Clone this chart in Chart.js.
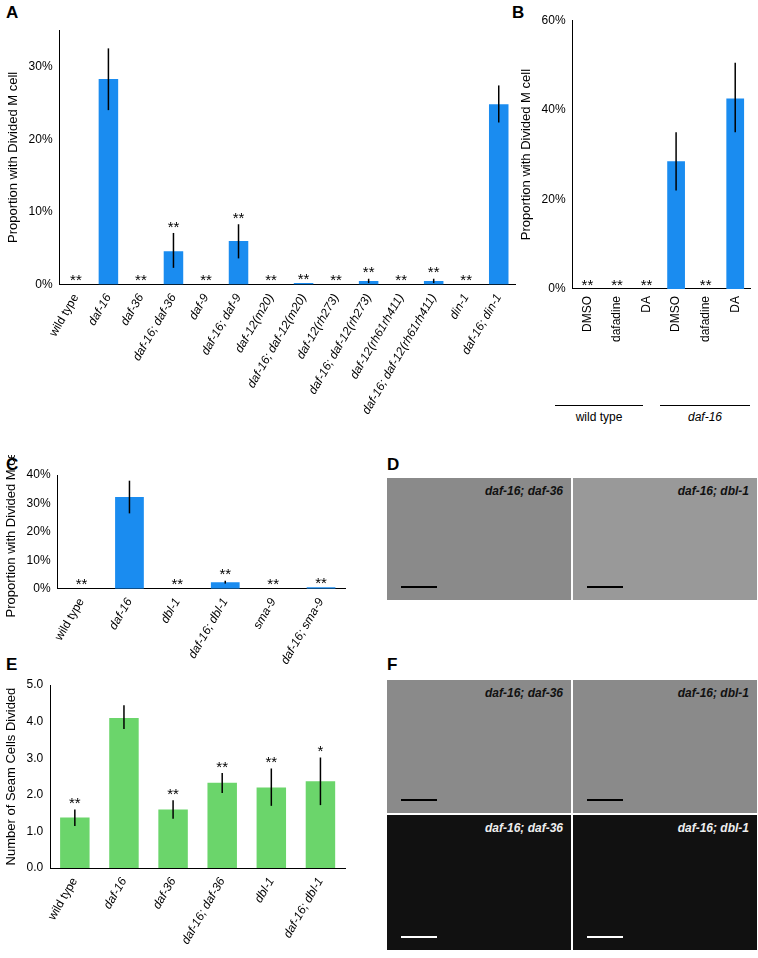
<!DOCTYPE html>
<html><head><meta charset="utf-8">
<script src="https://cdn.jsdelivr.net/npm/chart.js@4"></script>
<style>
body{margin:0;width:758px;height:958px;background:#fff;position:relative;font-family:"Liberation Sans",Arial,sans-serif;overflow:hidden}
.box{position:absolute}
.lt{position:absolute;font-weight:bold;font-size:17px}
.img{position:absolute;background:#8a8a8a}
.img i{position:absolute;right:8px;top:6px;font-size:12px;font-weight:bold;color:#111}
.dark{background:#111}
.dark i{color:#eee}
.bar{position:absolute;left:14px;bottom:12px;width:36px;height:2px;background:#000}
.dark .bar{background:#fff}
</style></head><body>
<div class="lt" style="left:6px;top:3px">A</div>
<div class="lt" style="left:512px;top:3px">B</div>
<div class="lt" style="left:6px;top:455px">C</div>
<div class="lt" style="left:387px;top:455px">D</div>
<div class="lt" style="left:6px;top:655px">E</div>
<div class="lt" style="left:387px;top:655px">F</div>
<div class="box" style="left:0;top:20px;width:520px;height:400px"><canvas id="a"></canvas></div>
<div class="box" style="left:515px;top:10px;width:243px;height:335px"><canvas id="b"></canvas></div>
<div style="position:absolute;left:555px;top:405px;width:88px;border-top:1px solid #000"></div>
<div style="position:absolute;left:660px;top:405px;width:90px;border-top:1px solid #000"></div>
<div style="position:absolute;left:555px;top:410px;width:88px;text-align:center;font-size:12px">wild type</div>
<div style="position:absolute;left:660px;top:410px;width:90px;text-align:center;font-size:12px;font-style:italic">daf-16</div>
<div class="box" style="left:0;top:455px;width:350px;height:215px"><canvas id="c"></canvas></div>
<div class="box" style="left:0;top:665px;width:350px;height:285px"><canvas id="e"></canvas></div>
<div class="img" style="left:387px;top:478px;width:184px;height:122px"><i>daf-16; daf-36</i><span class="bar"></span></div>
<div class="img" style="left:573px;top:478px;width:184px;height:122px;background:#999"><i>daf-16; dbl-1</i><span class="bar"></span></div>
<div class="img" style="left:387px;top:680px;width:184px;height:133px"><i>daf-16; daf-36</i><span class="bar"></span></div>
<div class="img" style="left:573px;top:680px;width:184px;height:133px"><i>daf-16; dbl-1</i><span class="bar"></span></div>
<div class="img dark" style="left:387px;top:815px;width:184px;height:135px"><i>daf-16; daf-36</i><span class="bar"></span></div>
<div class="img dark" style="left:573px;top:815px;width:184px;height:135px"><i>daf-16; dbl-1</i><span class="bar"></span></div>
<script>
const FONT = "'Liberation Sans', Arial, sans-serif";
const BLUE = "#1a8cf0", GREEN = "#6bd56b";

const aLabels = ["wild type","daf-16","daf-36","daf-16; daf-36","daf-9","daf-16; daf-9","daf-12(m20)","daf-16; daf-12(m20)","daf-12(rh273)","daf-16; daf-12(rh273)","daf-12(rh61rh411)","daf-16; daf-12(rh61rh411)","din-1","daf-16; din-1"];
const aValues = [0,28.3,0,4.6,0,6.0,0,0.2,0,0.5,0,0.5,0,24.8];
const aLow = [null,24.0,null,2.3,null,3.6,null,null,null,0.2,null,0.2,null,22.3];
const aHigh = [null,32.5,null,7.1,null,8.3,null,null,null,0.8,null,0.8,null,27.4];
const aStars = ["**","","**","**","**","**","**","**","**","**","**","**","**",""];

const bLabels = ["DMSO","dafadine","DA","DMSO","dafadine","DA"];
const bValues = [0,0,0,28.5,0,42.5];
const bLow = [null,null,null,22,null,35];
const bHigh = [null,null,null,35,null,50.5];
const bStars = ["**","**","**","","**",""];

const cLabels = ["wild type","daf-16","dbl-1","daf-16; dbl-1","sma-9","daf-16; sma-9"];
const cValues = [0,32.3,0,2.3,0,0.5];
const cLow = [null,26.5,null,1.8,null,null];
const cHigh = [null,38,null,2.8,null,null];
const cStars = ["**","","**","**","**","**"];

const eLabels = ["wild type","daf-16","daf-36","daf-16; daf-36","dbl-1","daf-16; dbl-1"];
const eValues = [1.38,4.1,1.6,2.33,2.2,2.37];
const eLow = [1.15,3.8,1.35,2.05,1.7,1.72];
const eHigh = [1.6,4.45,1.85,2.6,2.72,3.02];
const eStars = ["**","","**","**","**","*"];

const errPlugin = {
  id: "errs",
  afterDatasetsDraw(chart, args, o) {
    const ctx = chart.ctx, x = chart.scales.x, y = chart.scales.y;
    ctx.save();
    o.values.forEach((v, i) => {
      const px = x.getPixelForValue(i);
      let top = v;
      if (o.lo[i] != null) {
        ctx.strokeStyle = "#000"; ctx.lineWidth = 1.5;
        ctx.beginPath();
        ctx.moveTo(px, y.getPixelForValue(o.lo[i]));
        ctx.lineTo(px, y.getPixelForValue(o.hi[i]));
        ctx.stroke();
        top = o.hi[i];
      }
      if (o.stars[i]) {
        ctx.fillStyle = "#000"; ctx.font = "15px " + FONT;
        ctx.textAlign = "center"; ctx.textBaseline = "bottom";
        ctx.fillText(o.stars[i], px, y.getPixelForValue(top) + 4 - (o.lo[i] != null ? 2 : 0));
      }
    });
    ctx.restore();
  }
};

function make(id, labels, values, lo, hi, stars, color, max, step, fmt, title, rot, italic, pad) {
  new Chart(document.getElementById(id), {
    type: "bar",
    data: { labels: labels, datasets: [{ data: values, backgroundColor: color, barPercentage: 0.6, categoryPercentage: 1 }] },
    options: {
      animation: false, responsive: true, maintainAspectRatio: false,
      layout: { padding: pad },
      scales: {
        x: {
          grid: { display: false, drawTicks: true, tickLength: 4 },
          border: { color: "#000" },
          ticks: { color: "#000", minRotation: rot, maxRotation: rot, autoSkip: false,
            font: c => ({ family: FONT, size: 12, style: italic(c.index) ? "italic" : "normal" }) }
        },
        y: {
          min: 0, max: max,
          grid: { display: false, tickLength: 4 },
          border: { color: "#000" },
          ticks: { stepSize: step, color: "#000", font: { family: FONT, size: 12 }, callback: fmt },
          title: { display: true, text: title, color: "#000", font: { family: FONT, size: 13 } }
        }
      },
      plugins: { legend: { display: false }, tooltip: { enabled: false },
        errs: { values: values, lo: lo, hi: hi, stars: stars } }
    },
    plugins: [errPlugin]
  });
}
const pct = v => v + "%";
make("a", aLabels, aValues, aLow, aHigh, aStars, BLUE, 35, 10, v => v > 30 ? null : v + "%", "Proportion with Divided M cell", 60, i => i > 0, {top: 10, right: 5, left: 2});
make("b", bLabels, bValues, bLow, bHigh, bStars, BLUE, 60, 20, pct, "Proportion with Divided M cell", 90, i => false, {top: 8, right: 8});
make("c", cLabels, cValues, cLow, cHigh, cStars, BLUE, 40, 10, pct, "Proportion with Divided M cell", 60, i => i > 0, {top: 20, right: 5});
make("e", eLabels, eValues, eLow, eHigh, eStars, GREEN, 5, 1, v => v.toFixed(1), "Number of Seam Cells Divided", 60, i => i > 0, {top: 20, right: 5});
</script>
</body></html>
